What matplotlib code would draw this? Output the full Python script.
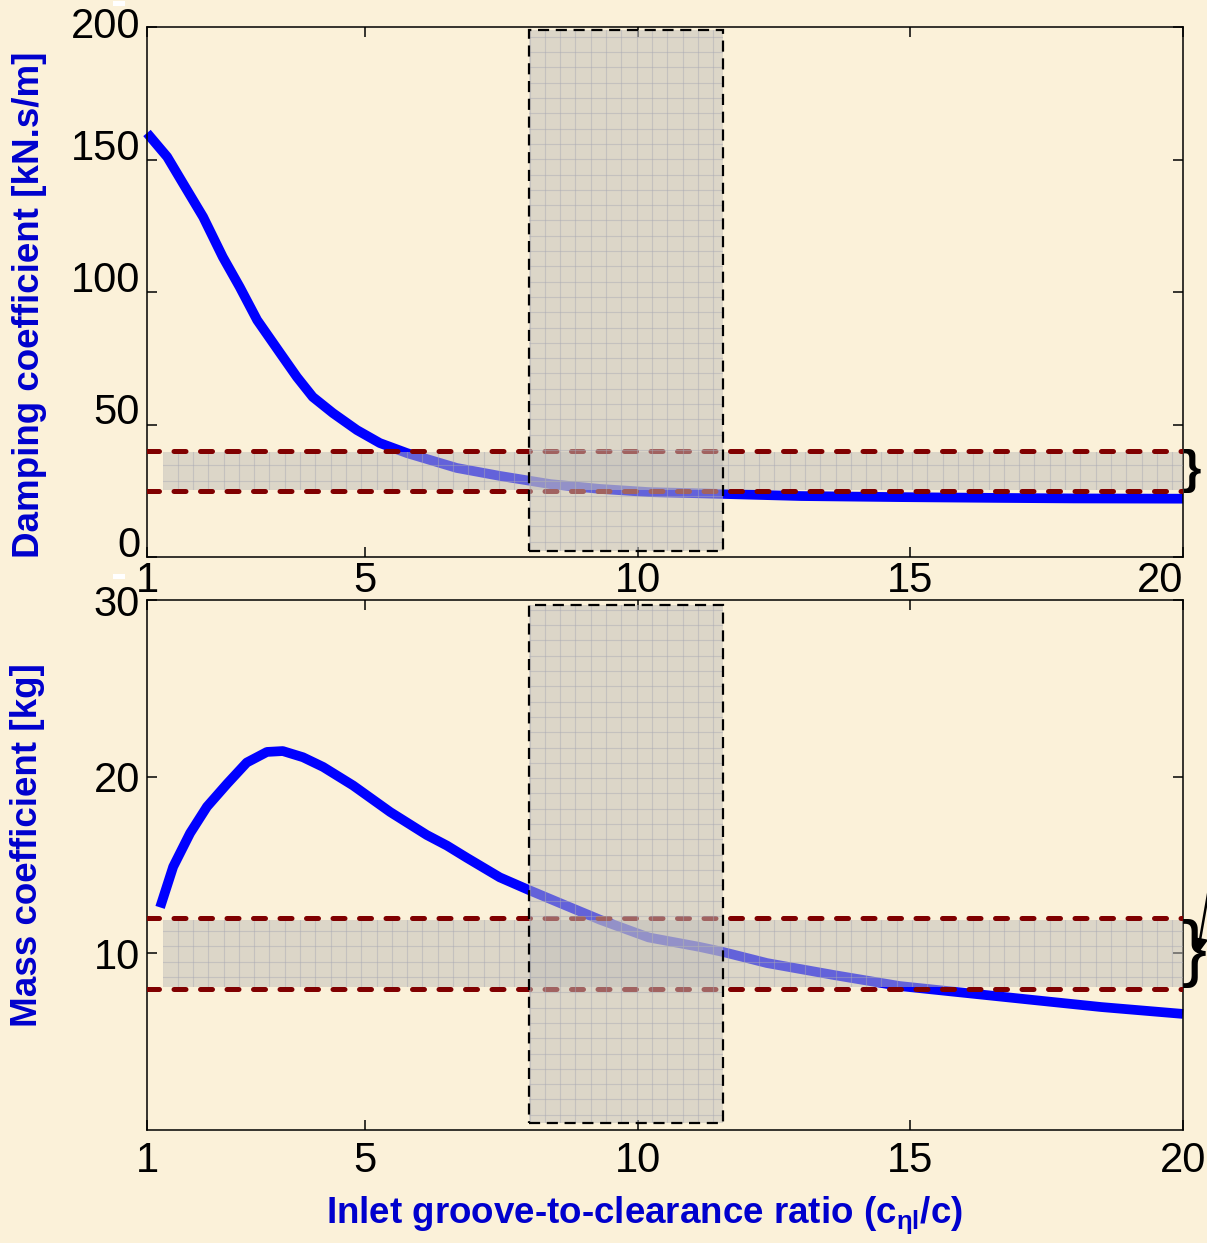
import matplotlib
matplotlib.use('Agg')
import matplotlib.pyplot as plt
from matplotlib.patches import Rectangle
from matplotlib.collections import LineCollection
import numpy as np

# ---------------- data ----------------
ratio_damp = [1.0, 1.37, 1.66, 2.03, 2.39, 2.7, 3.02, 3.44, 3.75, 4.04, 4.41, 4.85,
              5.27, 5.77, 6.68, 7.47, 8.4, 9.3, 10.2, 11.0, 11.56, 13.0, 14.8, 16.6, 18.0, 20.0]
damping = [160, 151, 141, 128.3, 113.2, 101.9, 89.4, 77, 67.9, 60.4, 54.3, 47.9,
           43, 39.2, 33.6, 30.6, 27.5, 25.7, 24.5, 24.1, 23.8, 23.0, 22.6, 22.3, 22.1, 22.0]

ratio_mass = [1.24, 1.48, 1.79, 2.1, 2.47, 2.83, 3.2, 3.49, 3.86, 4.23, 4.78, 5.46, 6.13,
              6.5, 6.87, 7.47, 7.99, 8.57, 9.31, 10.2, 11.14, 11.56, 12.37, 13.6, 14.8,
              16.04, 17.25, 18.5, 20.0]
mass = [12.6, 14.9, 16.8, 18.3, 19.6, 20.8, 21.4, 21.45, 21.1, 20.55, 19.5, 18.0, 16.7,
        16.1, 15.4, 14.3, 13.6, 12.85, 11.9, 10.9, 10.36, 10.08, 9.45, 8.77, 8.15,
        7.75, 7.36, 6.96, 6.57]

x_ticks = [1, 5, 10, 15, 20]
damp_ticks = [0, 50, 100, 150, 200]
mass_ticks = [10, 20, 30]

optimum_range = (8.0, 11.56)      # shaded vertical window (groove ratio)
damp_band = (25, 40)              # target damping band
mass_band = (8, 12)               # target mass band
damp_box_y = (2.3, 199)
mass_box_y = (0.4, 29.7)

# ---------------- style ----------------
BG = '#FBF1D9'
BLUE = '#0000FF'
LABEL_BLUE = '#0000CD'
DARKRED = '#800000'
BOX_GRAY = '#C0BEB9'
GRID_GRAY = '#A8A8B4'
GRID_PX = 15.3

plt.rcParams['font.family'] = ['Liberation Sans', 'DejaVu Sans']
plt.rcParams['mathtext.fontset'] = 'custom'
plt.rcParams['mathtext.rm'] = 'Liberation Sans:bold'
plt.rcParams['mathtext.it'] = 'Liberation Sans:bold'
plt.rcParams['mathtext.bf'] = 'Liberation Sans:bold'

W, H = 1207, 1243
fig = plt.figure(figsize=(W / 100, H / 100), dpi=100, facecolor=BG)

ax1 = fig.add_axes([147 / W, 1 - 557 / H, 1036 / W, 530 / H])
ax2 = fig.add_axes([147 / W, 1 - 1130 / H, 1036 / W, 530 / H])


def fine_grid(ax, patch, z):
    """Faint square grid inside a shaded patch (clipped to it)."""
    dx = GRID_PX / 1036
    dy = GRID_PX / 530
    segs = [[(x, 0), (x, 1)] for x in np.arange(0, 1 + 1e-9, dx)]
    segs += [[(0, y), (1, y)] for y in np.arange(0, 1 + 1e-9, dy)]
    lc = LineCollection(segs, colors=GRID_GRAY, linewidths=0.8, alpha=0.45,
                        transform=ax.transAxes, zorder=z)
    ax.add_collection(lc, autolim=False)
    lc.set_clip_path(patch)


def decorate(ax, xr, yr, band, box_y, yticks):
    ax.set_facecolor('none')
    ax.plot(xr, yr, color=BLUE, lw=7, solid_capstyle='butt', zorder=2, clip_on=False)
    # horizontal band
    bx0 = 1.3
    hb = Rectangle((bx0, band[0] + 0.03 * (band[1] - band[0])), 20 - bx0,
                   0.94 * (band[1] - band[0]), facecolor=BOX_GRAY,
                   edgecolor='none', alpha=0.52, zorder=3)
    ax.add_patch(hb)
    fine_grid(ax, hb, 3.1)
    for yv in band:
        ax.plot([1, 20], [yv, yv], color=DARKRED, lw=3.6, dashes=(2.4, 2.9),
                dash_capstyle='round', zorder=4)
    # vertical window
    x0, x1 = optimum_range
    vb = Rectangle((x0, box_y[0]), x1 - x0, box_y[1] - box_y[0],
                   facecolor=BOX_GRAY, edgecolor='none', alpha=0.52, zorder=5)
    ax.add_patch(vb)
    fine_grid(ax, vb, 5.1)
    ax.add_patch(Rectangle((x0, box_y[0]), x1 - x0, box_y[1] - box_y[0],
                           fill=False, edgecolor='black', lw=1.6,
                           linestyle=(0, (5, 3)), zorder=6))
    ax.set_xlim(1, 20)
    ax.set_xticks(x_ticks)
    ax.set_xticklabels([str(v) for v in x_ticks])
    ax.set_yticks(yticks)
    ax.set_yticklabels([str(v) for v in yticks])
    ax.tick_params(direction='in', length=7, width=1.1, top=True, right=True,
                   labelsize=30, colors='black')
    for sp in ax.spines.values():
        sp.set_linewidth(1.1)


decorate(ax1, ratio_damp, damping, damp_band, damp_box_y, damp_ticks)
ax1.set_ylim(0, 200)
ax1.tick_params(axis='x', pad=3)
ax1.tick_params(axis='y', pad=5)
for t in ax1.yaxis.get_major_ticks():
    t.label1.set_verticalalignment('baseline')
ax1.yaxis.get_major_ticks()[-1].label1.set_verticalalignment('center')
ax1.xaxis.get_major_ticks()[-1].label1.set_horizontalalignment('right')

decorate(ax2, ratio_mass, mass, mass_band, mass_box_y, mass_ticks)
ax2.set_ylim(0, 30)
ax2.tick_params(axis='x', pad=8)
ax2.tick_params(axis='y', pad=5)

# axis labels
fig.text(30 / W, 1 - 305 / H, 'Damping coefficient [kN.s/m]', rotation=90,
         ha='center', va='center', color=LABEL_BLUE, fontsize=26.5, fontweight='bold')
fig.text(28 / W, 1 - 845 / H, 'Mass coefficient [kg]', rotation=90,
         ha='center', va='center', color=LABEL_BLUE, fontsize=26.5, fontweight='bold')
fig.text(645 / W, 1 - 1215 / H, r'Inlet groove-to-clearance ratio (c$_{\eta l}$/c)',
         ha='center', va='center', color=LABEL_BLUE, fontsize=26.5, fontweight='bold')

# braces and arrow
ax1.text(19.98, sum(damp_band) / 2, '}', ha='left', va='center', fontsize=34,
         fontweight='bold', color='black', clip_on=False, zorder=7)
ax2.text(19.98, sum(mass_band) / 2, '}', ha='left', va='center', fontsize=54,
         color='black', clip_on=False, zorder=7)
ax2.annotate('', xy=(1197, H - 957), xycoords='figure pixels',
             xytext=(1214, H - 860), textcoords='figure pixels',
             arrowprops=dict(arrowstyle='-|>', color='black', lw=1.8,
                             mutation_scale=22), annotation_clip=False)

# small white artefacts in the original
fig.patches.append(Rectangle((113 / W, 1 - 6 / H), 12 / W, 5 / H, transform=fig.transFigure,
                             facecolor='white', edgecolor='none'))
fig.patches.append(Rectangle((113 / W, 1 - 579 / H), 12 / W, 5 / H, transform=fig.transFigure,
                             facecolor='white', edgecolor='none'))

fig.savefig('out.png', dpi=100, facecolor=BG)
